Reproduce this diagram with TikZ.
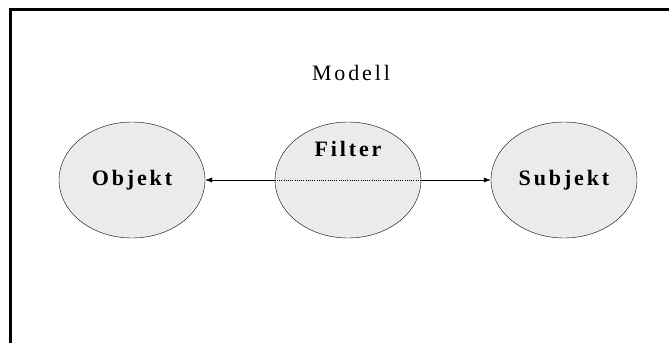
\documentclass[tikz,border=0pt]{standalone}
\usepackage{fontspec}
\setmainfont{Liberation Serif}
\newfontfamily\trackedfont[LetterSpace=13]{Liberation Serif}
\usetikzlibrary{shapes.geometric,arrows.meta}
\tikzset{
  blob/.style={ellipse,draw,thin,fill=black!8,minimum width=146pt,minimum height=116pt,inner sep=0pt},
  tag/.style={font=\trackedfont\bfseries\fontsize{22}{24}\selectfont},
  link/.style={thin,-{Latex[length=7pt,width=5pt]}}
}
\begin{document}
\begin{tikzpicture}[x=1pt,y=-1pt]
    \useasboundingbox (0,0) rectangle (669,343);
    % frame, only its top and left side fall inside the page
    \draw[line width=3pt] (669,9.5) -| (10.5,343);
    \node[font=\trackedfont\fontsize{22}{24}\selectfont] (modell) at (351,73) {Modell};
    \begin{scope}
      \node[blob,tag] (objekt) at (132,180) {Objekt};
      \node[blob] (filter) at (348,180) {};
      \node[blob,tag] (subjekt) at (564,180) {Subjekt};
      \node[tag] (filtertag) at ([yshift=31pt]filter.center) {Filter};
    \end{scope}
    \draw[dotted,very thin] (filter.west) -- (filter.east);
    \draw[link] (filter.west) -- (objekt.east);
    \draw[link] (filter.east) -- (subjekt.west);
  \end{tikzpicture}
\end{document}
